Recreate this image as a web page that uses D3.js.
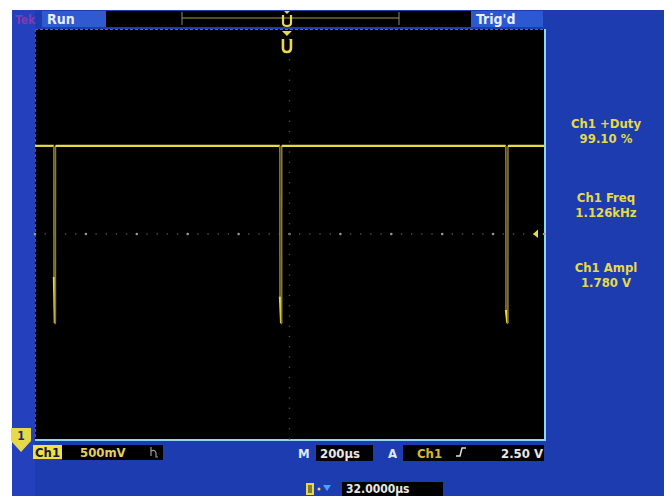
<!DOCTYPE html>
<html><head><meta charset="utf-8">
<script src="https://cdn.jsdelivr.net/npm/d3@7"></script>
<style>html,body{margin:0;padding:0;background:#fff;}svg{display:block;}</style>
</head><body>
<svg id="scope" width="670" height="496"></svg>
<script>
// ---- data ----
const traceTimeUs = [-1000, -926, -925.6, -922, -920, -919.6,
                     -38, -37.6, -33, -31, -30.6,
                     850, 850.4, 856, 858, 858.4, 1000];
const traceVolts  = [2.86, 2.86, 1.58, 1.13, 1.13, 2.86,
                     2.86, 1.39, 1.13, 1.13, 2.86,
                     2.86, 1.26, 1.13, 1.13, 2.86, 2.86];
const measureNames  = ["Ch1 +Duty", "Ch1 Freq", "Ch1 Ampl"];
const measureValues = ["99.10 %", "1.126kHz", "1.780 V"];
const chLabel = "Ch1", voltsPerDiv = "500mV", timePerDiv = "200\u00b5s";
const trigSource = "Ch1", trigLevel = "2.50 V", trigLevelVolts = 2.0;
const trigPosLabel = "32.0000\u00b5s";
const statusRun = "Run", statusTrig = "Trig'd";

// ---- layout ----
const svg = d3.select("#scope");
const scr = {x0: 35, x1: 544, y0: 29, y1: 439};
const x = d3.scaleLinear().domain([-1000, 1000]).range([scr.x0, scr.x1]);
const y = d3.scaleLinear().domain([0, 4]).range([scr.y1, scr.y0]);
const FONT = "'DejaVu Sans Condensed','DejaVu Sans',sans-serif";
const YEL = "#e6d94a";

// blue bezel
svg.append("rect").attr("x", 12).attr("y", 10).attr("width", 652).attr("height", 486).attr("fill", "#1c3cb0");
svg.append("rect").attr("x", 12).attr("y", 10).attr("width", 23).attr("height", 486).attr("fill", "#2440bd");
// top status bar
svg.append("rect").attr("x", 42).attr("y", 11).attr("width", 64).attr("height", 16).attr("fill", "#2f5ad0");
svg.append("rect").attr("x", 106).attr("y", 11).attr("width", 365).attr("height", 16).attr("fill", "#000");
svg.append("rect").attr("x", 471).attr("y", 11).attr("width", 72).attr("height", 16).attr("fill", "#2c58d2");
svg.append("text").attr("x", 15).attr("y", 24).attr("fill", "#7a3fb0").attr("font-family", FONT).attr("font-size", 12).attr("font-weight", "bold").text("Tek");
svg.append("text").attr("x", 47).attr("y", 24).attr("fill", "#e8eeff").attr("font-family", FONT).attr("font-size", 14).attr("font-weight", "bold").text(statusRun);
svg.append("text").attr("x", 476).attr("y", 24).attr("fill", "#e8eeff").attr("font-family", FONT).attr("font-size", 14).attr("font-weight", "bold").text(statusTrig);
// record bracket
const rb = {x0: 182, x1: 399, y: 18};
svg.append("line").attr("x1", rb.x0).attr("x2", rb.x1).attr("y1", rb.y).attr("y2", rb.y).attr("stroke", "#a89a40").attr("stroke-width", 1.2);
[rb.x0, rb.x1].forEach(v => svg.append("line").attr("x1", v).attr("x2", v).attr("y1", 12).attr("y2", 25).attr("stroke", "#888").attr("stroke-width", 1));
svg.append("path").attr("d", "M284,11 L290,11 L287,14 Z").attr("fill", YEL);
svg.append("path").attr("d", "M283,15 L283,23 Q283,26 287,26 Q291,26 291,23 L291,15").attr("fill", "none").attr("stroke", YEL).attr("stroke-width", 2.2);

// screen
svg.append("rect").attr("x", scr.x0).attr("y", scr.y0).attr("width", scr.x1 - scr.x0).attr("height", scr.y1 - scr.y0).attr("fill", "#000");
svg.append("line").attr("x1", scr.x1 + 1).attr("x2", scr.x1 + 1).attr("y1", scr.y0).attr("y2", scr.y1 + 2).attr("stroke", "#8fd6f2").attr("stroke-width", 2);
svg.append("line").attr("x1", scr.x0).attr("x2", scr.x1 + 2).attr("y1", scr.y1 + 1).attr("y2", scr.y1 + 1).attr("stroke", "#8fd6f2").attr("stroke-width", 2);
svg.append("line").attr("x1", scr.x0).attr("x2", scr.x1).attr("y1", scr.y0 + 0.5).attr("y2", scr.y0 + 0.5).attr("stroke", "#6a6a8a").attr("stroke-width", 1).attr("stroke-dasharray", "3,2");
svg.append("line").attr("x1", scr.x0 + 0.5).attr("x2", scr.x0 + 0.5).attr("y1", scr.y0).attr("y2", scr.y1).attr("stroke", "#3a50c0").attr("stroke-width", 1).attr("stroke-dasharray", "3,2");

// graticule cross-hair (minor ticks every 1/5 division)
const g = svg.append("g");
const tMinor = d3.range(-1000, 1001, 40);
const vMinor = d3.range(0, 4.0001, 0.1);
g.selectAll("circle.h").data(tMinor).join("circle").attr("cx", d => x(d)).attr("cy", y(2))
  .attr("r", d => (Math.abs(d % 200) < 1e-6 ? 1.3 : 0.8)).attr("fill", d => (Math.abs(d % 200) < 1e-6 ? "#9a9a9a" : "#5c5c5c"));
g.selectAll("circle.v").data(vMinor).join("circle").attr("cx", x(0)).attr("cy", d => y(d))
  .attr("r", 0.8).attr("fill", "#4e4e4e");

// waveform
const pts = traceTimeUs.map((t, i) => ({t, v: traceVolts[i]}));
const segs = d3.pairs(pts);
const steep = d => Math.abs((d[1].v - d[0].v) / (d[1].t - d[0].t)) > 1;
svg.append("g").selectAll("line").data(segs).join("line")
  .attr("x1", d => x(d[0].t)).attr("y1", d => y(d[0].v))
  .attr("x2", d => x(d[1].t)).attr("y2", d => y(d[1].v))
  .attr("stroke", d => steep(d) ? "#8a7a2e" : YEL)
  .attr("stroke-width", d => steep(d) ? 1.6 : 2.2)
  .attr("stroke-linecap", "butt");

// trigger position marker on screen
const tx = x(-10);
svg.append("path").attr("d", `M${tx - 5},${scr.y0 + 2} L${tx + 5},${scr.y0 + 2} L${tx},${scr.y0 + 7} Z`).attr("fill", YEL);
svg.append("path").attr("d", `M${tx - 4},${scr.y0 + 10} L${tx - 4},${scr.y0 + 19} Q${tx - 4},${scr.y0 + 23} ${tx},${scr.y0 + 23} Q${tx + 4},${scr.y0 + 23} ${tx + 4},${scr.y0 + 19} L${tx + 4},${scr.y0 + 10}`).attr("fill", "none").attr("stroke", YEL).attr("stroke-width", 2.6);
// trigger level marker
svg.append("path").attr("d", `M${scr.x1 - 11},${y(trigLevelVolts)} L${scr.x1 - 6},${y(trigLevelVolts) - 4.5} L${scr.x1 - 6},${y(trigLevelVolts) + 4} Z`).attr("fill", YEL);
// channel 1 ground marker
svg.append("path").attr("d", "M11,428 L31,428 L31,441 L21,452 L11,441 Z").attr("fill", YEL);
svg.append("text").attr("x", 21).attr("y", 440).attr("text-anchor", "middle").attr("fill", "#1d2a70").attr("font-family", FONT).attr("font-size", 12).attr("font-weight", "bold").text("1");

// measurement readouts
const mg = svg.append("g");
const mY = [128, 202, 272];
measureNames.forEach((n, i) => {
  mg.append("text").attr("x", 606).attr("y", mY[i]).attr("text-anchor", "middle").attr("fill", YEL)
    .attr("font-family", FONT).attr("font-size", 13).attr("font-weight", "bold").text(n);
  mg.append("text").attr("x", 606).attr("y", mY[i] + 15).attr("text-anchor", "middle").attr("fill", YEL)
    .attr("font-family", FONT).attr("font-size", 13).attr("font-weight", "bold").text(measureValues[i]);
});

// bottom readouts
const b = svg.append("g").attr("font-family", FONT).attr("font-size", 13).attr("font-weight", "bold");
b.append("rect").attr("x", 33).attr("y", 445).attr("width", 29).attr("height", 14).attr("fill", "#f0e040");
b.append("text").attr("x", 35).attr("y", 457).attr("fill", "#1a1a40").text(chLabel);
b.append("rect").attr("x", 62).attr("y", 445).attr("width", 101).attr("height", 15).attr("fill", "#000");
b.append("text").attr("x", 80).attr("y", 457).attr("fill", "#e0d060").text(voltsPerDiv);
// bandwidth-limit glyph
b.append("path").attr("d", "M151,447 L151,456 M151,451 Q155,449 156,453 L156,457 L158,457").attr("fill", "none").attr("stroke", "#9a9a9a").attr("stroke-width", 1.2);
b.append("text").attr("x", 298).attr("y", 458).attr("fill", "#dfe8ff").text("M");
b.append("rect").attr("x", 316).attr("y", 445).attr("width", 57).attr("height", 16).attr("fill", "#000");
b.append("text").attr("x", 320).attr("y", 458).attr("fill", "#e8e8e8").text(timePerDiv);
b.append("text").attr("x", 388).attr("y", 458).attr("fill", "#dfe8ff").text("A");
b.append("rect").attr("x", 403).attr("y", 445).attr("width", 141).attr("height", 16).attr("fill", "#000");
b.append("text").attr("x", 417).attr("y", 458).attr("fill", "#d8b830").text(trigSource);
b.append("path").attr("d", "M456,456 L460,456 L462,448 L466,448").attr("fill", "none").attr("stroke", "#ddd").attr("stroke-width", 1.5);
b.append("text").attr("x", 543).attr("y", 458).attr("text-anchor", "end").attr("fill", "#e8e8e8").text(trigLevel);
// trigger position readout
b.append("rect").attr("x", 306).attr("y", 483).attr("width", 8).attr("height", 12).attr("fill", YEL);
b.append("rect").attr("x", 308).attr("y", 485).attr("width", 4).attr("height", 8).attr("fill", "#8a7a2e");
b.append("circle").attr("cx", 319).attr("cy", 489).attr("r", 1.5).attr("fill", YEL);
b.append("path").attr("d", "M323,485 L331,485 L327,491 Z").attr("fill", "#4aa0ff");
b.append("rect").attr("x", 342).attr("y", 482).attr("width", 101).attr("height", 14).attr("fill", "#000");
b.append("text").attr("x", 346).attr("y", 493).attr("fill", "#e8e8e8").attr("font-size", 12).text(trigPosLabel);
</script>
</body></html>
